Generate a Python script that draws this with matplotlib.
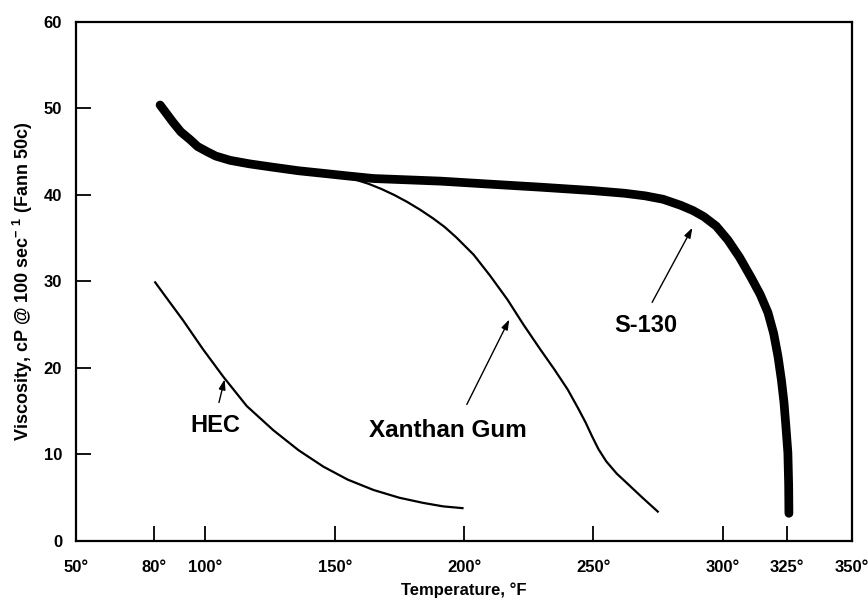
"""
Viscosity vs temperature for S-130, Xanthan Gum and HEC (Fann 50c)
"""

import matplotlib
matplotlib.use('Agg')
import matplotlib.pyplot as plt

plt.rcParams['font.family'] = ['Liberation Sans', 'DejaVu Sans']
plt.rcParams['font.weight'] = 'bold'
plt.rcParams['mathtext.fontset'] = 'custom'
plt.rcParams['mathtext.rm'] = 'Liberation Sans:bold'
plt.rcParams['mathtext.bf'] = 'Liberation Sans:bold'

# S-130 (thick curve)
s130_temp = [82.5, 84.5, 87.5, 90.5, 94.1, 97.0, 100.7, 104.0, 109.6, 117.0,
             126.3, 136.0, 145.6, 155.0, 165.0, 178.0, 190.9, 210.0, 229.6, 250.0,
             262.0, 270.0, 277.0, 283.8, 288.5, 292.7, 297.5, 302.0, 306.5, 310.9,
             314.5, 317.5, 319.7, 321.4, 322.7, 323.7, 324.5, 325.2, 325.5, 325.6]
s130_visc = [50.4, 49.6, 48.4, 47.3, 46.4, 45.6, 45.0, 44.5, 44.0, 43.6,
             43.2, 42.8, 42.5, 42.2, 41.9, 41.75, 41.6, 41.25, 40.9, 40.5,
             40.2, 39.9, 39.5, 38.8, 38.2, 37.5, 36.4, 34.8, 32.8, 30.5,
             28.5, 26.4, 24.0, 21.3, 18.6, 16.0, 13.0, 10.2, 6.5, 3.2]

# Xanthan Gum
xan_temp = [158.8, 163.0, 168.0, 173.0, 178.0, 183.0, 188.0, 192.5, 197.0, 203.7,
            210.0, 216.8, 223.0, 229.6, 235.0, 240.1, 244.0, 247.0, 249.5, 252.0,
            255.0, 259.0, 263.3, 269.0, 274.9]
xan_visc = [41.7, 41.3, 40.7, 40.0, 39.2, 38.3, 37.3, 36.3, 35.1, 33.1,
            30.7, 27.9, 25.0, 22.1, 19.8, 17.5, 15.4, 13.7, 12.1, 10.6,
            9.2, 7.8, 6.6, 5.0, 3.4]

# HEC
hec_temp = [80.6, 85.0, 91.4, 99.0, 106.9, 116.0, 126.3, 136.0, 145.6, 155.0,
            165.0, 175.0, 184.3, 192.0, 199.4]
hec_visc = [29.9, 28.1, 25.5, 22.2, 19.0, 15.6, 12.8, 10.5, 8.6, 7.1,
            5.9, 5.0, 4.4, 4.0, 3.8]

x_ticks = [50, 80, 100, 150, 200, 250, 300, 325, 350]
x_labels = ['50°', '80°', '100°', '150°', '200°', '250°', '300°', '325°', '350°']
y_ticks = [0, 10, 20, 30, 40, 50, 60]

fig = plt.figure(figsize=(8.68, 5.98), dpi=100)
ax = fig.add_axes([0.0876, 0.0953, 0.894, 0.868])

ax.plot(s130_temp, s130_visc, color='black', linewidth=6.3, solid_capstyle='round',
        solid_joinstyle='round')
ax.plot(xan_temp, xan_visc, color='black', linewidth=1.6, solid_joinstyle='round')
ax.plot(hec_temp, hec_visc, color='black', linewidth=1.6, solid_joinstyle='round')

# labels with arrows
arrow = dict(arrowstyle='-|>,head_length=0.6,head_width=0.2', color='black', linewidth=1.0)
ax.annotate('', xy=(107.7, 19.0), xytext=(105.0, 15.7), arrowprops=arrow)
ax.text(103.8, 13.4, 'HEC', fontsize=17, fontweight='bold', ha='center', va='center')
ax.annotate('', xy=(218.0, 25.9), xytext=(200.6, 15.5), arrowprops=arrow)
ax.text(193.6, 12.8, 'Xanthan Gum', fontsize=17.5, fontweight='bold', ha='center', va='center')
ax.annotate('', xy=(288.8, 36.5), xytext=(272.2, 27.3), arrowprops=arrow)
ax.text(270.3, 24.9, 'S-130', fontsize=17, fontweight='bold', ha='center', va='center')

ax.set_xlim(50, 350)
ax.set_ylim(0, 60)
ax.set_xticks(x_ticks)
ax.set_xticklabels(x_labels)
ax.set_yticks(y_ticks)
ax.tick_params(axis='both', direction='in', length=11, width=1.3, labelsize=12)
ax.tick_params(axis='x', pad=14)
ax.tick_params(axis='y', pad=10)
for t in ax.get_xticklabels() + ax.get_yticklabels():
    t.set_fontweight('bold')
for s in ax.spines.values():
    s.set_linewidth(1.6)

ax.set_xlabel('Temperature, °F', fontsize=12, fontweight='bold', labelpad=5)
ax.set_ylabel(r'Viscosity, cP @ 100 sec$^{-\ 1}$ (Fann 50c)', fontsize=13,
              fontweight='bold', labelpad=6)

fig.savefig('out.png', dpi=100)
